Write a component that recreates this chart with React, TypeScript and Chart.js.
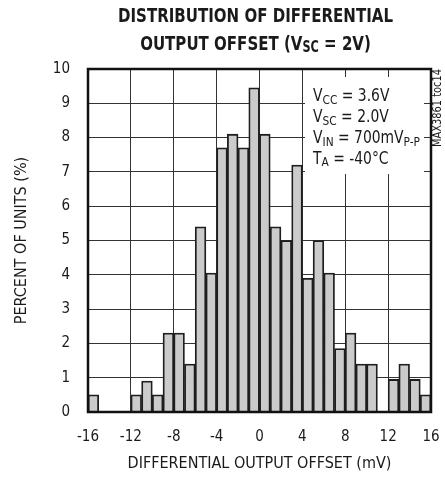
import React, { useEffect, useRef } from "react";
import { Chart, registerables } from "chart.js";

Chart.register(...registerables);

// ---- data ----
const binStarts = [
  -16, -15, -14, -13, -12, -11, -10, -9, -8, -7, -6, -5, -4, -3, -2, -1,
  0, 1, 2, 3, 4, 5, 6, 7, 8, 9, 10, 11, 12, 13, 14, 15,
];
const binWidth = 1;
const percentOfUnits = [
  0.5, 0, 0, 0, 0.5, 0.9, 0.5, 2.3, 2.3, 1.4, 5.4, 4.05, 7.7, 8.1, 7.7, 9.45,
  8.1, 5.4, 5.0, 7.2, 3.9, 5.0, 4.05, 1.85, 2.3, 1.4, 1.4, 0, 0.95, 1.4, 0.95, 0.5,
];
const xMin = -16;
const xMax = 16;
const xStep = 4;
const yMin = 0;
const yMax = 10;
const yStep = 1;

const titleLine1 = [{ t: "DISTRIBUTION OF DIFFERENTIAL", sub: false }];
const titleLine2 = [
  { t: "OUTPUT OFFSET (V", sub: false },
  { t: "SC", sub: true },
  { t: " = 2V)", sub: false },
];
const xTitle = "DIFFERENTIAL OUTPUT OFFSET (mV)";
const yTitle = "PERCENT OF UNITS (%)";
const conditions = [
  [{ t: "V", sub: false }, { t: "CC", sub: true }, { t: " = 3.6V", sub: false }],
  [{ t: "V", sub: false }, { t: "SC", sub: true }, { t: " = 2.0V", sub: false }],
  [
    { t: "V", sub: false },
    { t: "IN", sub: true },
    { t: " = 700mV", sub: false },
    { t: "P-P", sub: true },
  ],
  [{ t: "T", sub: false }, { t: "A", sub: true }, { t: " = -40°C", sub: false }],
];
const sideNote = "MAX3861 toc14";

const FONT = '"Liberation Sans Narrow", "DejaVu Sans Condensed", "Roboto Condensed", "Liberation Sans", sans-serif';
const TEXT = "#1a1a1a";

type Seg = { t: string; sub: boolean };

function segWidth(ctx: CanvasRenderingContext2D, segs: Seg[], main: string, sub: string) {
  let w = 0;
  for (const s of segs) {
    ctx.font = s.sub ? sub : main;
    w += ctx.measureText(s.t).width;
  }
  return w;
}

function drawSegs(
  ctx: CanvasRenderingContext2D,
  segs: Seg[],
  x: number,
  y: number,
  main: string,
  sub: string,
  subDy: number
) {
  let cx = x;
  for (const s of segs) {
    ctx.font = s.sub ? sub : main;
    ctx.fillText(s.t, cx, s.sub ? y + subDy : y);
    cx += ctx.measureText(s.t).width;
  }
}

const decor = {
  id: "decor",
  beforeDatasetsDraw(chart: any) {
    const { ctx, chartArea } = chart;
    ctx.save();
    ctx.fillStyle = "#ffffff";
    ctx.fillRect(chartArea.right - 126, chartArea.top + 8, 119, 97);
    ctx.restore();
  },
  afterDraw(chart: any) {
    const { ctx, chartArea } = chart;
    ctx.save();
    // frame
    ctx.strokeStyle = "#111";
    ctx.lineWidth = 2.5;
    ctx.strokeRect(chartArea.left, chartArea.top, chartArea.right - chartArea.left, chartArea.bottom - chartArea.top);

    ctx.fillStyle = TEXT;
    ctx.textBaseline = "alphabetic";
    ctx.textAlign = "left";

    // title
    const tMain = `bold 20px ${FONT}`;
    const tSub = `bold 15px ${FONT}`;
    const w1 = segWidth(ctx, titleLine1, tMain, tSub);
    const sx = 275 / w1;
    const cxT = 255.5;
    ctx.save();
    ctx.translate(cxT, 22);
    ctx.scale(sx, 1);
    drawSegs(ctx, titleLine1, -w1 / 2, 0, tMain, tSub, 2);
    ctx.restore();
    const w2 = segWidth(ctx, titleLine2, tMain, tSub);
    ctx.save();
    ctx.translate(cxT, 50);
    ctx.scale(sx, 1);
    drawSegs(ctx, titleLine2, -w2 / 2, 0, tMain, tSub, 2);
    ctx.restore();

    // conditions
    const cMain = `17px ${FONT}`;
    const cSub = `13px ${FONT}`;
    const wc = segWidth(ctx, conditions[2] as Seg[], cMain, cSub);
    const csx = 107 / wc;
    const x0 = chartArea.right - 118;
    const baselines = [32, 53, 74, 94.5];
    conditions.forEach((segs, i) => {
      ctx.save();
      ctx.translate(x0, chartArea.top + baselines[i]);
      ctx.scale(csx, 1);
      drawSegs(ctx, segs as Seg[], 0, 0, cMain, cSub, 2.5);
      ctx.restore();
    });

    // side note
    ctx.font = `12px ${FONT}`;
    const wn = ctx.measureText(sideNote).width;
    ctx.save();
    ctx.translate(437.5, 108);
    ctx.rotate(-Math.PI / 2);
    ctx.scale(78 / wn, 1);
    ctx.textAlign = "center";
    ctx.textBaseline = "middle";
    ctx.fillText(sideNote, 0, 0);
    ctx.restore();

    ctx.restore();
  },
};

export default function App() {
  const ref = useRef<HTMLCanvasElement | null>(null);

  useEffect(() => {
    if (!ref.current) return;
    const chart = new Chart(ref.current, {
      type: "bar",
      data: {
        datasets: [
          {
            data: binStarts.map((b, i) => ({ x: b + binWidth / 2, y: percentOfUnits[i] })),
            backgroundColor: "#cbcbcb",
            borderColor: "#1e1e1e",
            borderWidth: 1.8,
            barPercentage: 1,
            categoryPercentage: 1,
          } as any,
        ],
      },
      options: {
        responsive: false,
        animation: false,
        events: [],
        layout: { padding: { top: 69, right: 14, bottom: 0, left: 0 } },
        plugins: {
          legend: { display: false },
          tooltip: { enabled: false },
          title: { display: false },
        },
        scales: {
          x: {
            type: "linear",
            min: xMin,
            max: xMax,
            offset: false,
            grid: { color: "#333", lineWidth: 1, drawTicks: false, offset: false },
            border: { display: false },
            ticks: {
              stepSize: xStep,
              color: TEXT,
              font: { family: FONT, size: 15 },
              padding: 16,
              maxRotation: 0,
              autoSkip: false,
            },
            title: {
              display: true,
              text: xTitle,
              color: TEXT,
              font: { family: FONT, size: 16 },
              padding: { top: 0, bottom: 5 },
            },
            afterFit: (s: any) => {
              s.height = 66;
              s.paddingLeft = 0;
              s.paddingRight = 0;
            },
          },
          y: {
            type: "linear",
            min: yMin,
            max: yMax,
            grid: { color: "#333", lineWidth: 1, drawTicks: false },
            border: { display: false },
            ticks: {
              stepSize: yStep,
              color: TEXT,
              font: { family: FONT, size: 15 },
              padding: 18,
            },
            title: {
              display: true,
              text: yTitle,
              color: TEXT,
              font: { family: FONT, size: 16 },
              padding: { top: 12, bottom: 0 },
            },
            afterFit: (s: any) => {
              s.width = 88;
              s.paddingTop = 0;
              s.paddingBottom = 0;
            },
          },
        },
      } as any,
      plugins: [decor],
    });
    return () => chart.destroy();
  }, []);

  return (
    <div style={{ position: "absolute", left: 0, top: 0, width: 445, height: 478, background: "#fff" }}>
      <canvas ref={ref} width={445} height={478} style={{ display: "block" }} />
    </div>
  );
}
